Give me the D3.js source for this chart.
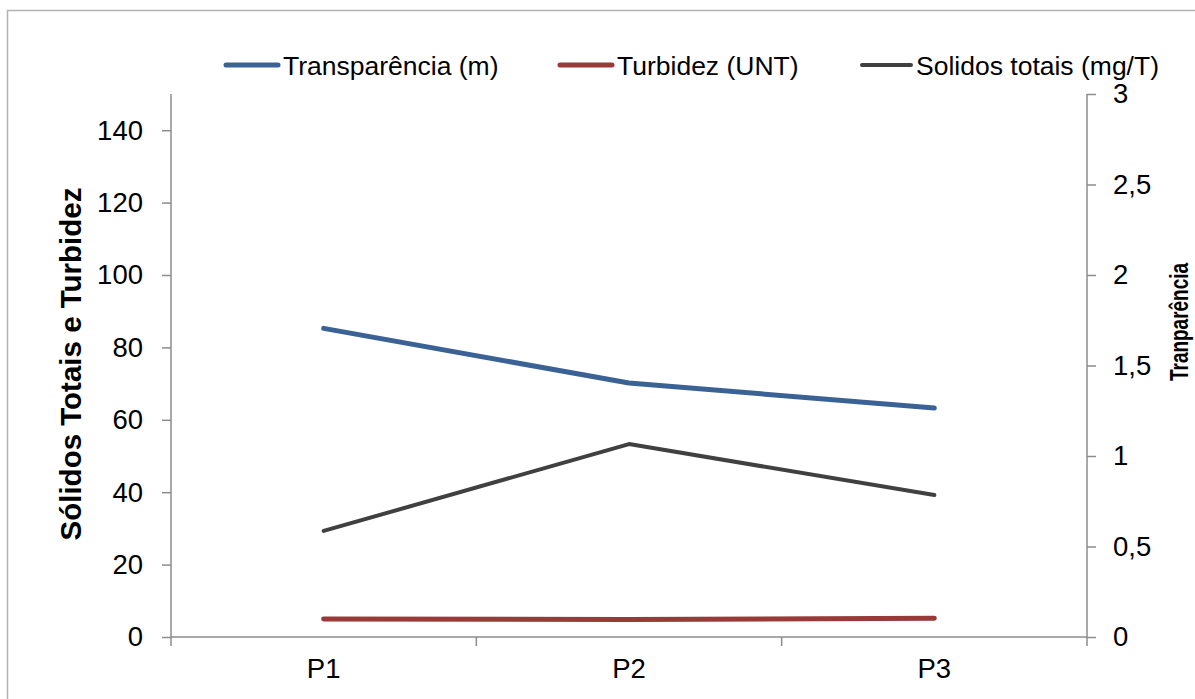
<!DOCTYPE html>
<html>
<head>
<meta charset="utf-8">
<script src="https://cdn.jsdelivr.net/npm/d3@7/dist/d3.min.js"></script>
<style>
  html, body { margin: 0; padding: 0; background: #fff; }
  svg { display: block; font-family: "Liberation Sans", Arial, sans-serif; }
</style>
</head>
<body>
<svg id="chart" width="1195" height="699"></svg>
<script>
// Sampling points
const categories = ["P1", "P2", "P3"];

// Series values
const transparencia = [1.705, 1.403, 1.265];   // m, secondary (right) axis
const turbidez = [4.97, 4.85, 5.15];            // UNT, primary (left) axis
const solidos = [29.3, 53.3, 39.2];             // primary (left) axis

// Tick labels
const leftTicks = [0, 20, 40, 60, 80, 100, 120, 140];
const rightTicks = [0, 0.5, 1, 1.5, 2, 2.5, 3];

const legendLabels = ["Transparência (m)", "Turbidez (UNT)", "Solidos totais (mg/T)"];
const colors = ["#3a6295", "#973a38", "#404040"];

const svg = d3.select("#chart");
const plotLeft = 171, plotRight = 1087, plotTop = 94, plotBottom = 637;
const axisColor = "#8c8c8c";
const tickFont = 27.5;

// outer frame
svg.append("rect")
  .attr("x", 7.5).attr("y", 10.5)
  .attr("width", 1300).attr("height", 800)
  .attr("fill", "none").attr("stroke", "#b3b3b3").attr("stroke-width", 1.5);

const x = d3.scaleBand().domain(categories).range([plotLeft, plotRight]);
const yL = d3.scaleLinear().domain([0, 150]).range([plotBottom, plotTop]);
const yR = d3.scaleLinear().domain([0, 3]).range([plotBottom, plotTop]);

// Left axis
const gL = svg.append("g").attr("transform", `translate(${plotLeft},0)`)
  .call(d3.axisLeft(yL).tickValues(leftTicks).tickSize(9).tickPadding(19).tickSizeOuter(0));
// Right axis
const fmt = d => String(d).replace(".", ",");
const gR = svg.append("g").attr("transform", `translate(${plotRight},0)`)
  .call(d3.axisRight(yR).tickValues(rightTicks).tickFormat(fmt).tickSize(9).tickPadding(17).tickSizeOuter(0));
// Bottom axis
const gB = svg.append("g").attr("transform", `translate(0,${plotBottom})`)
  .call(d3.axisBottom(x).tickSize(0).tickPadding(21));

[gL, gR, gB].forEach(g => {
  g.select(".domain").attr("stroke", axisColor).attr("stroke-width", 1.5);
  g.selectAll(".tick line").attr("stroke", axisColor).attr("stroke-width", 1.5);
  g.selectAll("text").attr("font-size", tickFont).attr("fill", "#000")
    .attr("font-family", "'Liberation Sans', Arial, sans-serif");
});
gL.select(".domain").attr("d", `M0,${plotTop}V${plotBottom}`);
gR.select(".domain").attr("d", `M0,${plotTop}V${plotBottom}`);

// category boundary ticks on the x axis
const bounds = categories.map(c => x(c)).concat([plotRight]);
gB.selectAll(".bound").data(bounds).enter().append("line")
  .attr("x1", d => d).attr("x2", d => d)
  .attr("y1", 0).attr("y2", 9)
  .attr("stroke", axisColor).attr("stroke-width", 1.5);
gB.select(".domain").attr("d", `M${plotLeft},0H${plotRight}`);

// Axis titles
svg.append("text")
  .attr("transform", `translate(81,364) rotate(-90)`)
  .attr("text-anchor", "middle")
  .attr("font-size", 29.5).attr("font-weight", "bold")
  .text("Sólidos Totais e Turbidez");
// secondary title is set in a condensed box
svg.append("text")
  .attr("transform", `translate(1188,322) rotate(-90)`)
  .attr("text-anchor", "middle")
  .attr("font-size", 26).attr("font-weight", "bold")
  .attr("textLength", 118).attr("lengthAdjust", "spacingAndGlyphs")
  .text("Tranparência");

// Lines
const cx = c => x(c) + x.bandwidth() / 2;
const lineL = d3.line().x((d, i) => cx(categories[i])).y(d => yL(d));
const lineR = d3.line().x((d, i) => cx(categories[i])).y(d => yR(d));

svg.append("path").datum(solidos).attr("d", lineL)
  .attr("fill", "none").attr("stroke", colors[2]).attr("stroke-width", 4)
  .attr("stroke-linecap", "round").attr("stroke-linejoin", "round");
svg.append("path").datum(turbidez).attr("d", lineL)
  .attr("fill", "none").attr("stroke", colors[1]).attr("stroke-width", 5)
  .attr("stroke-linecap", "round").attr("stroke-linejoin", "round");
svg.append("path").datum(transparencia).attr("d", lineR)
  .attr("fill", "none").attr("stroke", colors[0]).attr("stroke-width", 5)
  .attr("stroke-linecap", "round").attr("stroke-linejoin", "round");

// Legend
const legendX = [224, 558, 860];
const legendW = [56, 56, 53];
const lg = svg.append("g");
legendLabels.forEach((lab, i) => {
  lg.append("line")
    .attr("x1", legendX[i] + 2).attr("x2", legendX[i] + legendW[i] - 2)
    .attr("y1", 65).attr("y2", 65)
    .attr("stroke", colors[i]).attr("stroke-width", i === 2 ? 4 : 5)
    .attr("stroke-linecap", "round");
  lg.append("text")
    .attr("x", legendX[i] + legendW[i] + 3).attr("y", 75)
    .attr("font-size", 26.5)
    .text(lab);
});
</script>
</body>
</html>
